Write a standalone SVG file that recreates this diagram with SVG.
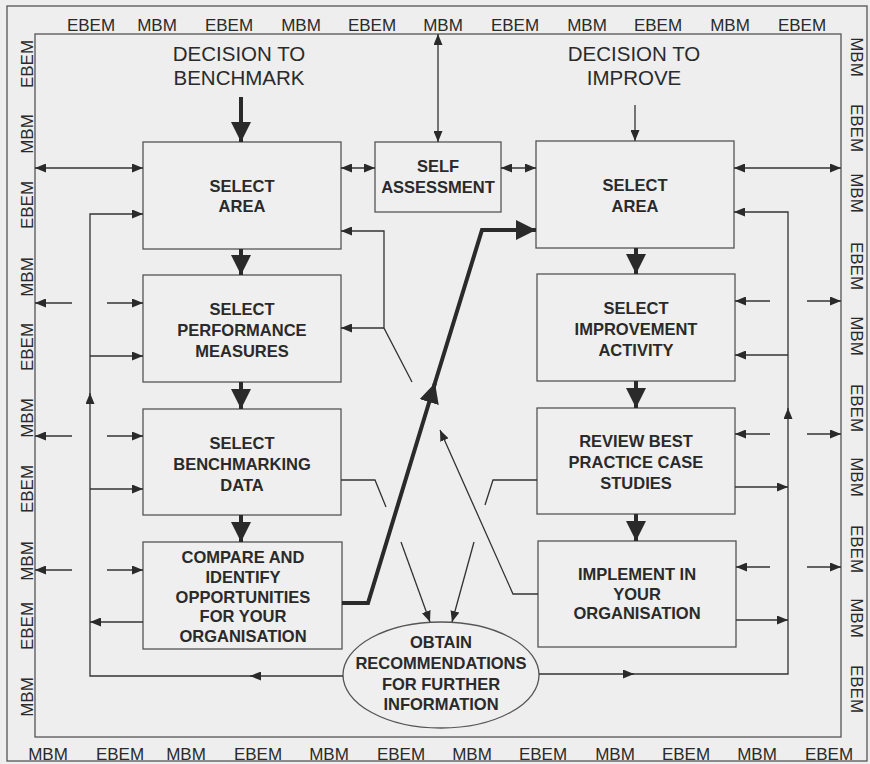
<svg xmlns="http://www.w3.org/2000/svg" width="870" height="764" viewBox="0 0 870 764">
<defs>
<style>
.bg{fill:#eeeeee}
.frame{fill:none;stroke:#555;stroke-width:1.3}
.box{fill:#efefef;stroke:#555;stroke-width:1.3}
.ln{fill:none;stroke:#333;stroke-width:1.3}
.thick{fill:none;stroke:#2a2a2a;stroke-width:4}
text{font-family:"Liberation Sans",Arial,sans-serif;fill:#2a2a2a}
.lbl{font-size:17px;text-anchor:middle}
.bt{font-size:16.5px;font-weight:bold;text-anchor:middle}
.dec{font-size:20.5px;text-anchor:middle}
</style>
<marker id="a" viewBox="0 0 11 9" refX="11" refY="4.5" markerWidth="11" markerHeight="9" markerUnits="userSpaceOnUse" orient="auto-start-reverse"><path d="M0,0L11,4.5L0,9z" fill="#2a2a2a"/></marker>
<marker id="b" viewBox="0 0 20 20" refX="20" refY="10" markerWidth="20" markerHeight="20" markerUnits="userSpaceOnUse" orient="auto"><path d="M0,0L20,10L0,20z" fill="#2a2a2a"/></marker>
</defs>
<rect class="bg" x="0" y="0" width="870" height="764"/>
<g id="frame">
<rect class="frame" x="7" y="6" width="860" height="755"/>
<rect class="frame" x="35" y="34" width="806" height="703"/>
</g>
<g id="border-labels">
<g class="lbl">
<text x="91" y="31">EBEM</text><text x="157" y="31">MBM</text><text x="229" y="31">EBEM</text><text x="301" y="31">MBM</text><text x="372" y="31">EBEM</text><text x="443" y="31">MBM</text><text x="515" y="31">EBEM</text><text x="587" y="31">MBM</text><text x="658" y="31">EBEM</text><text x="730" y="31">MBM</text><text x="802" y="31">EBEM</text>
<text x="48" y="760">MBM</text><text x="120" y="760">EBEM</text><text x="186" y="760">MBM</text><text x="258" y="760">EBEM</text><text x="329" y="760">MBM</text><text x="401" y="760">EBEM</text><text x="472" y="760">MBM</text><text x="543" y="760">EBEM</text><text x="615" y="760">MBM</text><text x="686" y="760">EBEM</text><text x="757" y="760">MBM</text><text x="829" y="760">EBEM</text>
<text transform="translate(33,64) rotate(-90)">EBEM</text><text transform="translate(33,134) rotate(-90)">MBM</text><text transform="translate(33,205) rotate(-90)">EBEM</text><text transform="translate(33,277) rotate(-90)">MBM</text><text transform="translate(33,347) rotate(-90)">EBEM</text><text transform="translate(33,418) rotate(-90)">MBM</text><text transform="translate(33,489) rotate(-90)">EBEM</text><text transform="translate(33,561) rotate(-90)">MBM</text><text transform="translate(33,626) rotate(-90)">EBEM</text><text transform="translate(33,697) rotate(-90)">MBM</text>
<text transform="translate(851,57) rotate(90)">MBM</text><text transform="translate(851,128) rotate(90)">EBEM</text><text transform="translate(851,193) rotate(90)">MBM</text><text transform="translate(851,266) rotate(90)">EBEM</text><text transform="translate(851,336) rotate(90)">MBM</text><text transform="translate(851,408) rotate(90)">EBEM</text><text transform="translate(851,477) rotate(90)">MBM</text><text transform="translate(851,549) rotate(90)">EBEM</text><text transform="translate(851,618) rotate(90)">MBM</text><text transform="translate(851,689) rotate(90)">EBEM</text>
</g>
</g>
<g id="decision-benchmark"><text class="dec" x="239" y="61">DECISION TO</text><text class="dec" x="239" y="85">BENCHMARK</text></g>
<g id="decision-improve"><text class="dec" x="634" y="61">DECISION TO</text><text class="dec" x="634" y="85">IMPROVE</text></g>
<g id="select-area-l"><rect class="box" x="143" y="142" width="198" height="107"/><text class="bt" x="242" y="192">SELECT</text><text class="bt" x="242" y="212">AREA</text></g>
<g id="select-perf"><rect class="box" x="143" y="275" width="198" height="107"/><text class="bt" x="242" y="315">SELECT</text><text class="bt" x="242" y="336">PERFORMANCE</text><text class="bt" x="242" y="357">MEASURES</text></g>
<g id="select-bench"><rect class="box" x="143" y="409" width="198" height="106"/><text class="bt" x="242" y="449">SELECT</text><text class="bt" x="242" y="470">BENCHMARKING</text><text class="bt" x="242" y="491">DATA</text></g>
<g id="compare"><rect class="box" x="143" y="542" width="199" height="107"/><text class="bt" x="243" y="563">COMPARE AND</text><text class="bt" x="243" y="583">IDENTIFY</text><text class="bt" x="243" y="603">OPPORTUNITIES</text><text class="bt" x="243" y="622">FOR YOUR</text><text class="bt" x="243" y="642">ORGANISATION</text></g>
<g id="self-assessment"><rect class="box" x="375" y="142" width="126" height="70"/><text class="bt" x="438" y="172">SELF</text><text class="bt" x="438" y="193">ASSESSMENT</text></g>
<g id="select-area-r"><rect class="box" x="536" y="141" width="198" height="107"/><text class="bt" x="635" y="191">SELECT</text><text class="bt" x="635" y="212">AREA</text></g>
<g id="select-improve"><rect class="box" x="537" y="274" width="198" height="107"/><text class="bt" x="636" y="314">SELECT</text><text class="bt" x="636" y="335">IMPROVEMENT</text><text class="bt" x="636" y="356">ACTIVITY</text></g>
<g id="review"><rect class="box" x="537" y="408" width="198" height="106"/><text class="bt" x="636" y="447">REVIEW BEST</text><text class="bt" x="636" y="468">PRACTICE CASE</text><text class="bt" x="636" y="489">STUDIES</text></g>
<g id="implement"><rect class="box" x="538" y="541" width="198" height="106"/><text class="bt" x="637" y="580">IMPLEMENT IN</text><text class="bt" x="637" y="600">YOUR</text><text class="bt" x="637" y="619">ORGANISATION</text></g>
<g id="obtain"><ellipse class="box" cx="441" cy="675" rx="98" ry="53"/><text class="bt" x="441" y="648">OBTAIN</text><text class="bt" x="441" y="669">RECOMMENDATIONS</text><text class="bt" x="441" y="690">FOR FURTHER</text><text class="bt" x="441" y="710">INFORMATION</text></g>
<g id="connectors">
<g class="thick" marker-end="url(#b)">
<path d="M241,97V142"/>
<path d="M241,249V275"/><path d="M241,382V409"/><path d="M241,515V542"/>
<path d="M636,248V274"/><path d="M636,381V408"/><path d="M636,514V541"/>
<path d="M342,603H368L435,383"/>
<path d="M434,386L482,230H536"/>
</g>
<g class="ln" marker-end="url(#a)">
<path d="M635,105V141"/>
<path d="M438,34V142" marker-start="url(#a)"/>
<path d="M35,168H143" marker-start="url(#a)"/>
<path d="M341,168H375" marker-start="url(#a)"/>
<path d="M501,168H536" marker-start="url(#a)"/>
<path d="M734,168H841" marker-start="url(#a)"/>
<path d="M343,676H250"/>
<path d="M252,676H90V393"/>
<path d="M90,396V214H143"/>
<path d="M90,356H143"/><path d="M90,489H143"/><path d="M143,622H90"/>
<path d="M72,303H35"/><path d="M107,303H143"/>
<path d="M72,436H35"/><path d="M107,436H143"/>
<path d="M72,570H35"/><path d="M107,570H143"/>
<path d="M539,674H634"/>
<path d="M632,674H788V408"/>
<path d="M788,411V212H734"/>
<path d="M788,355H735"/><path d="M735,487H788"/><path d="M736,620H788"/>
<path d="M770,301H735"/><path d="M807,301H841"/>
<path d="M770,434H735"/><path d="M807,434H841"/>
<path d="M770,567H736"/><path d="M807,567H841"/>
<path d="M412,382L384,328V231H341"/>
<path d="M384,328H341"/>
<path d="M538,594H513L440,430"/>
<path d="M401,542L430,622"/>
<path d="M474,542L452,622"/>
</g>
<g class="ln">
<path d="M341,480H375L386,507"/>
<path d="M537,480H493L485,505"/>
</g>
</g>
</svg>
